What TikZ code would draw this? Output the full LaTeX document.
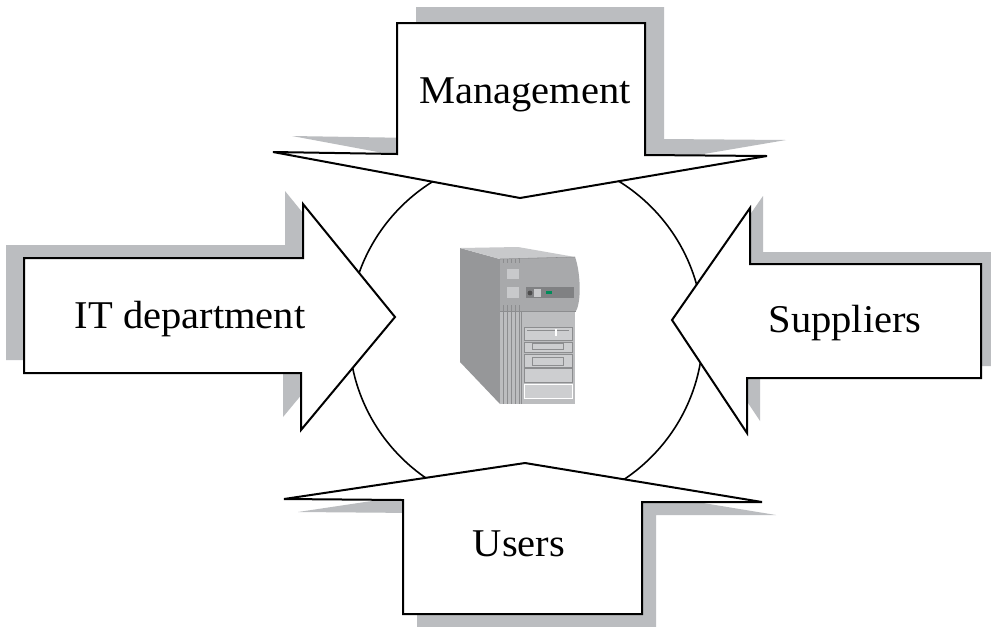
\documentclass[tikz,border=0pt]{standalone}
\usepackage{fontspec}
\setmainfont{Liberation Serif}
\definecolor{shade}{RGB}{187,189,192}
\definecolor{pcside}{RGB}{150,151,153}
\definecolor{pctop}{RGB}{200,201,203}
\definecolor{pcbezel}{RGB}{168,169,171}
\definecolor{pcfront}{RGB}{188,189,191}
\definecolor{pcline}{RGB}{140,141,143}
\definecolor{pcbay}{RGB}{205,206,208}
\definecolor{pcpanel}{RGB}{128,129,131}
\definecolor{ledgreen}{RGB}{0,140,90}
\begin{document}
\begin{tikzpicture}[x=0.75pt,y=-0.75pt,
  block/.style={draw=black, fill=white, line width=1.5pt, line join=miter},
  shadowfill/.style={fill=shade, draw=none},
  label/.style={anchor=base, inner sep=0pt, font=\fontsize{29.5}{33}\selectfont},
  mgmtshape/.style={insert path={(397,23) -- (645,23) -- (645,155) -- (767,156) -- (520,198) -- (273,152) -- (397,154) -- cycle}},
  itshape/.style={insert path={(24,258) -- (303,258) -- (303,204) -- (395,317) -- (301,430) -- (301,373) -- (24,373) -- cycle}},
  supshape/.style={insert path={(981,264) -- (750,264) -- (750,208) -- (672,320) -- (747,433) -- (747,378) -- (981,378) -- cycle}},
  usershape/.style={insert path={(403,614) -- (642,614) -- (642,502) -- (762,502) -- (525,463) -- (284,499) -- (403,500) -- cycle}},
  bay/.style={fill=pcbay, draw=pcline, line width=0.4pt}]
\useasboundingbox (0,0) rectangle (991,626);
\fill[white] (0,0) rectangle (991,626);

% central system boundary
\draw[line width=1.2pt] (526,332) circle[radius=132.75pt];

% drop shadows of the four block arrows
\fill[shadowfill, shift={(19,-16)}, mgmtshape];
\fill[shadowfill, shift={(-18,-13)}, itshape];
\fill[shadowfill, shift={(13,-12)}, supshape];
\fill[shadowfill, shift={(14,13)}, usershape];

% block arrows
\path[block, mgmtshape];
\path[block, itshape];
\path[block, supshape];
\path[block, usershape];

% labels
\node[label] (mgmt) at (525,103) {\scalebox{1.03}[1]{Management}};
\node[label] (itdept) at (190,328) {\scalebox{1.03}[1]{IT department}};
\node[label] (suppliers) at (845,332) {\scalebox{1.03}[1]{Suppliers}};
\node[label] (users) at (519,556) {\scalebox{1.03}[1]{Users}};

% tower computer
\fill[pcside] (460,248) -- (500,259) -- (500,404) -- (460,362) -- cycle;
\fill[pctop] (460,248) -- (518,247) -- (575,257) -- (500,259) -- cycle;
\fill[pcbezel] (500,259) -- (575,257) .. controls (580,270) and (582,300) .. (576,311) -- (500,311) -- cycle;
\fill[pcfront] (500,311) -- (575,311) -- (575,404) -- (500,404) -- cycle;
\draw[pcline, line width=0.4pt] (500,259) -- (575,257);
\draw[pcline, line width=0.4pt] (500,311) -- (576,311);
\draw[pcline, line width=0.4pt] (521,311) -- (521,404);
\foreach \gx in {503,507,511,515,519} {
  \draw[pcline, line width=0.35pt] (\gx,311) -- (\gx,404);
  \draw[pcline, line width=0.35pt] (\gx,259) -- (\gx,263);
  \draw[pcline, line width=0.35pt] (\gx,305) -- (\gx,311);
}
% front panel buttons
\fill[pctop] (507,269) rectangle (519,279);
\fill[pctop] (507,287) rectangle (519,298);
\fill[pcpanel] (526,287) rectangle (574,298);
\fill[black!70] (530,293) circle[radius=1.8pt];
\fill[pctop] (534,289) rectangle (541,297);
\fill[ledgreen] (546,291) rectangle (552,294);
% drive bays
\path[bay] (524,327) rectangle (572,340);
\draw[pcline, line width=0.5pt] (527,330) -- (569,330);
\fill[white] (555,329) rectangle (557,336);
\path[bay] (524,342) rectangle (572,352);
\draw[pcline, line width=0.4pt] (532,343.5) rectangle (563,349);
\path[bay] (524,354) rectangle (572,367);
\draw[pcline, line width=0.4pt] (532,357) rectangle (563,365);
\path[bay] (524,368) rectangle (572,382);
\path[bay, draw=white] (524,384) rectangle (572,398);
\end{tikzpicture}
\end{document}
